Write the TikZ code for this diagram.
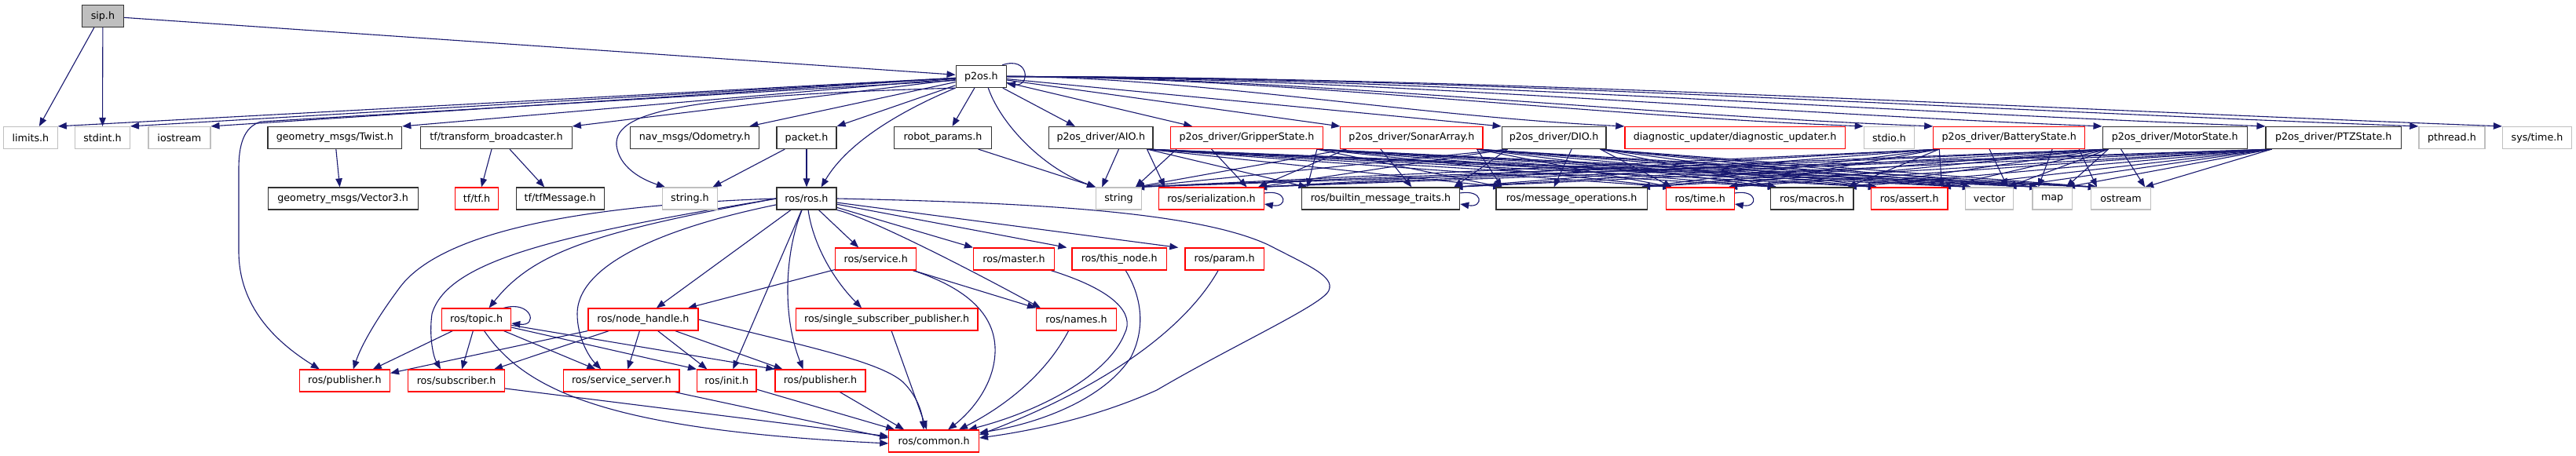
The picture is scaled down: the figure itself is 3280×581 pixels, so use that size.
\documentclass[tikz,border=0pt]{standalone}
\usepackage{fontspec}
\setmainfont{DejaVu Sans}
\usetikzlibrary{arrows.meta,calc}
\pgfdeclarelayer{bg}
\pgfsetlayers{bg,main}
\definecolor{edgec}{RGB}{25,25,112}
\definecolor{grayb}{RGB}{191,191,191}
\definecolor{redb}{RGB}{255,0,0}
\definecolor{blackb}{RGB}{50,50,50}
\tikzset{
 box/.style={draw=blackb, fill=white, line width=1.2pt, minimum height=28pt, inner sep=0pt, font=\fontsize{12.7}{15}\selectfont},
 ext/.style={box, draw=grayb},
 trunc/.style={box, draw=redb},
 root/.style={box, fill=grayb},
 dep/.style={draw=edgec, line width=1.1pt, -{Triangle[length=11pt,width=8.5pt]}},
}
\newcommand\E[2]{%
  \draw[dep] let \p1=(#1.south west), \p2=(#1.south east), \p3=(#2.north west), \p4=(#2.north east), \p5=(#1.center), \p6=(#2.center) in
  ({min(max(\x6,\x1+8pt),\x2-8pt)},\y1) -- ({min(max(\x5,\x3+8pt),\x4-8pt)},\y3);}
\newcommand\SL[1]{\draw[dep] ([yshift=7pt]#1.east) .. controls +(30,-5) and +(30,5) .. ([yshift=-7pt]#1.east);}
\begin{document}
\begin{tikzpicture}[x=1pt,y=-1pt]
\useasboundingbox (0,0) rectangle (3280,581);
% row 0
\node[root, minimum width=52.5pt] (sip) at (130.9,20.5) {sip.h};
% row 1
\node[box, minimum width=64.3pt] (p2os) at (1249.3,97.5) {p2os.h};
% row 2
\node[ext, minimum width=68.6pt] (limits) at (38.9,175.5) {limits.h};
\node[ext, minimum width=69.7pt] (stdint) at (130.5,175.5) {stdint.h};
\node[ext, minimum width=79pt] (iostream) at (228.4,175.5) {iostream};
\node[box, minimum width=170.7pt] (twist) at (426.4,175.5) {geometry\_msgs/Twist.h};
\node[box, minimum width=192.5pt] (tfb) at (632,175.5) {tf/transform\_broadcaster.h};
\node[box, minimum width=164.3pt] (odom) at (884.6,175.5) {nav\_msgs/Odometry.h};
\node[box, minimum width=76.1pt] (packet) at (1027,175.5) {packet.h};
\node[box, minimum width=124.7pt] (robotparams) at (1200.5,175.5) {robot\_params.h};
\node[box, minimum width=132.2pt] (aio) at (1401.8,175.5) {p2os\_driver/AIO.h};
\node[trunc, minimum width=193.6pt] (gripper) at (1587.5,175.5) {p2os\_driver/GripperState.h};
\node[trunc, minimum width=181.1pt] (sonar) at (1797.4,175.5) {p2os\_driver/SonarArray.h};
\node[box, minimum width=132.9pt] (dio) at (1978.6,175.5) {p2os\_driver/DIO.h};
\node[trunc, minimum width=280.4pt] (diag) at (2209.1,175.5) {diagnostic\_updater/diagnostic\_updater.h};
\node[ext, minimum width=64.3pt] (stdio) at (2405.4,175.5) {stdio.h};
\node[trunc, minimum width=192.8pt] (battery) at (2558.2,175.5) {p2os\_driver/BatteryState.h};
\node[box, minimum width=184.2pt] (motor) at (2769.2,175.5) {p2os\_driver/MotorState.h};
\node[box, minimum width=172.3pt] (ptz) at (2971.2,175.5) {p2os\_driver/PTZState.h};
\node[ext, minimum width=84pt] (pthread) at (3121.9,175.5) {pthread.h};
\node[ext, minimum width=88.1pt] (systime) at (3230.5,175.5) {sys/time.h};
% row 3
\node[box, minimum width=191pt] (vector3) at (436.6,253) {geometry\_msgs/Vector3.h};
\node[trunc, minimum width=55.3pt] (tftf) at (607,253) {tf/tf.h};
\node[box, minimum width=112.2pt] (tfmsg) at (713.2,253) {tf/tfMessage.h};
\node[ext, minimum width=69.6pt] (stringh) at (878.4,253) {string.h};
\node[box, minimum width=76.1pt] (rosros) at (1027,253) {ros/ros.h};
\node[ext, minimum width=57.5pt] (string) at (1424.5,253) {string};
\node[trunc, minimum width=133.6pt] (serial) at (1542.5,253) {ros/serialization.h};
\node[box, minimum width=201.5pt] (builtin) at (1757.9,253) {ros/builtin\_message\_traits.h};
\node[box, minimum width=192.1pt] (msgops) at (2001.1,253) {ros/message\_operations.h};
\node[trunc, minimum width=87.1pt] (time) at (2164.7,253) {ros/time.h};
\node[box, minimum width=105.4pt] (macros) at (2307.3,253) {ros/macros.h};
\node[trunc, minimum width=97.5pt] (assert) at (2431.3,253) {ros/assert.h};
\node[ext, minimum width=61.1pt] (vector) at (2533.1,253) {vector};
\node[ext, minimum width=50.3pt] (map) at (2613.1,253) {map};
\node[ext, minimum width=76pt] (ostream) at (2700.5,253) {ostream};
% row 4
\node[trunc, minimum width=103.2pt] (service) at (1115.2,330) {ros/service.h};
\node[trunc, minimum width=102.9pt] (master) at (1291,330) {ros/master.h};
\node[trunc, minimum width=120.4pt] (thisnode) at (1425.2,330) {ros/this\_node.h};
\node[trunc, minimum width=100.4pt] (param) at (1559.1,330) {ros/param.h};
% row 5
\node[trunc, minimum width=88.2pt] (topic) at (606.6,407) {ros/topic.h};
\node[trunc, minimum width=140pt] (nodehandle) at (818.9,407) {ros/node\_handle.h};
\node[trunc, minimum width=231.8pt] (single) at (1129.1,407) {ros/single\_subscriber\_publisher.h};
\node[trunc, minimum width=101.8pt] (names) at (1370.5,407) {ros/names.h};
% row 6
\node[trunc, minimum width=115.3pt] (pubL) at (438.8,485) {ros/publisher.h};
\node[trunc, minimum width=122.9pt] (subscriber) at (581.1,485) {ros/subscriber.h};
\node[trunc, minimum width=147.5pt] (srvserver) at (791.3,485) {ros/service\_server.h};
\node[trunc, minimum width=75.5pt] (init) at (925.3,485) {ros/init.h};
\node[trunc, minimum width=115pt] (pubR) at (1044.5,485) {ros/publisher.h};
% row 7
\node[trunc, minimum width=114.6pt] (common) at (1189.1,562) {ros/common.h};

\begin{pgfonlayer}{bg}
\fill[white] (0,0) rectangle (3280,581);
% sip.h
\draw[dep] ([xshift=-11pt]sip.south) -- ([xshift=11pt]limits.north);
\draw[dep] (sip) -- (stdint);
\draw[dep] (sip) -- (p2os);
% p2os.h
\draw[dep] ([xshift=-6pt]p2os.north east) .. controls +(35,-12) and +(30,4) .. ([yshift=-9pt]p2os.east);
\draw[dep] (p2os) -- (limits.north east);
\draw[dep] (p2os) -- (stdint.north east);
\draw[dep] (p2os) -- (iostream.north east);
\draw[dep] (p2os) -- (twist.north east);
\draw[dep] (p2os) -- (tfb.north east);
\draw[dep] (p2os) -- ([xshift=-13pt]odom.north east);
\draw[dep] (p2os) -- (packet.north east);
\draw[dep] (p2os) -- ([xshift=12pt]robotparams.north);
\draw[dep] (p2os) -- ([xshift=-33pt]aio.north);
\draw[dep] (p2os) -- ([xshift=28pt]gripper.north west);
\draw[dep] (p2os) -- (sonar.north west);
\draw[dep] (p2os) -- (dio.north west);
\draw[dep] (p2os) .. controls +(260,0) and +(-260,-12) .. (diag.north west);
\draw[dep] (p2os) .. controls +(360,0) and +(-360,-14) .. (stdio.north west);
\draw[dep] (p2os) .. controls +(390,0) and +(-390,-15) .. (battery.north west);
\draw[dep] (p2os) .. controls +(460,0) and +(-460,-18) .. (motor.north west);
\draw[dep] (p2os) .. controls +(530,0) and +(-530,-20) .. (ptz.north west);
\draw[dep] (p2os) .. controls +(600,0) and +(-600,-22) .. (pthread.north west);
\draw[dep] (p2os) .. controls +(630,0) and +(-630,-24) .. (systime.north west);
\draw[dep] (p2os.south west) .. controls (880,122) and (782,140) .. (785,185) .. controls (788,212) and (815,228) .. ([xshift=4pt]stringh.north west);
\draw[dep] ([xshift=9pt]p2os.south) .. controls (1275,160) and (1330,215) .. (string.north west);
\draw[dep] (p2os.south west) .. controls (1150,140) and (1080,180) .. ([xshift=-20pt]rosros.north east);
\draw[dep] ([yshift=-5pt]p2os.west) -- (332,155) .. controls (310,162) and (304,185) .. (304,215) -- (304,320) .. controls (304,390) and (350,435) .. ([xshift=-32pt]pubL.north);
% second level
\draw[dep] (packet) -- ([xshift=29pt]stringh.north);
\draw[dep] (packet) -- (rosros);
\draw[dep] (twist) -- ([xshift=-4pt]vector3.north);
\draw[dep] ([xshift=-6pt]tfb.south) -- ([xshift=6pt]tftf.north);
\draw[dep] ([xshift=17pt]tfb.south) -- ([xshift=-20pt]tfmsg.north);
\draw[dep] (robotparams) -- (string.north west);
% messages
\foreach \s in {aio,gripper,sonar,dio,battery,motor,ptz}{
  \foreach \t in {string,serial,builtin,msgops,time,macros,assert,vector,map,ostream}{
    \E{\s}{\t}
  }
}
\SL{serial}
\SL{builtin}
\SL{time}
% ros/ros.h
\draw[dep] (rosros.west) .. controls (720,262) and (560,300) .. (510,365) .. controls (480,405) and (460,440) .. ([xshift=11pt]pubL.north);
\draw[dep] (rosros.west) .. controls (720,298) and (570,330) .. (550,400) .. controls (546,430) and (552,455) .. ([xshift=-20pt]subscriber.north);
\draw[dep] (rosros.west) .. controls (760,295) and (680,320) .. ([xshift=16pt]topic.north);
\draw[dep] (rosros) .. controls (870,285) and (735,330) .. (735,400) .. controls (735,430) and (750,455) .. ([xshift=-26pt]srvserver.north);
\draw[dep] (rosros) -- ([xshift=17pt]nodehandle.north);
\draw[dep] (rosros) -- ([xshift=8pt]init.north);
\draw[dep] (rosros) .. controls (1000,320) and (995,400) .. ([xshift=-22pt]pubR.north);
\draw[dep] (rosros) .. controls (1035,310) and (1060,355) .. ([xshift=-32pt]single.north);
\draw[dep] (rosros) -- ([xshift=-22pt]service.north);
\draw[dep] (rosros) -- (master.north west);
\draw[dep] (rosros) -- ([xshift=-6pt]thisnode.north west);
\draw[dep] (rosros) -- ([xshift=-8pt]param.north west);
\draw[dep] (rosros.south east) .. controls (1100,275) and (1220,335) .. ([xshift=6pt]names.north west);
\draw[dep] (rosros.east) .. controls (1300,258) and (1520,268) .. (1615,312) .. controls (1665,338) and (1700,352) .. (1692,370) .. controls (1685,388) and (1570,440) .. (1473,497) .. controls (1400,530) and (1320,548) .. ([yshift=4pt]common.east);
% ros/topic.h
\draw[dep] ([xshift=-10pt]topic.north east) .. controls +(35,-10) and +(35,4) .. ([yshift=-5pt]topic.east);
\draw[dep] (topic) -- ([xshift=36pt]pubL.north);
\draw[dep] (topic) -- ([xshift=7pt]subscriber.north);
\draw[dep] (topic) -- ([xshift=-33pt]srvserver.north);
\draw[dep] (topic) -- (init.north west);
\draw[dep] (topic) -- (pubR.north west);
\draw[dep] ([xshift=10pt]topic.south) .. controls (670,500) and (780,548) .. ([yshift=-3pt]common.west);
% ros/node_handle.h
\draw[dep] (nodehandle.south west) -- ([yshift=-5pt]pubL.north east);
\draw[dep] (nodehandle) -- ([xshift=48pt]subscriber.north);
\draw[dep] (nodehandle) -- ([xshift=8pt]srvserver.north);
\draw[dep] (nodehandle) -- ([xshift=-25pt]init.north);
\draw[dep] (nodehandle) -- ([xshift=-48pt]pubR.north);
\draw[dep] (nodehandle.east) .. controls (1020,440) and (1120,460) .. (1150,487) .. controls (1168,505) and (1174,525) .. ([xshift=-13pt]common.north);
% ros/service.h
\draw[dep] (service) -- ([xshift=57pt]nodehandle.north);
\draw[dep] (service) -- (names.north west);
\draw[dep] ([xshift=-5pt]service.south east) .. controls (1255,375) and (1272,420) .. (1266,460) .. controls (1260,500) and (1230,530) .. ([xshift=18pt]common.north);
% others to ros/common.h
\draw[dep] ([xshift=-5pt]master.south east) .. controls (1420,370) and (1445,400) .. (1432,425) .. controls (1410,480) and (1320,525) .. ([xshift=-14pt]common.north east);
\draw[dep] ([xshift=8pt]thisnode.south) .. controls (1455,380) and (1458,420) .. (1440,455) .. controls (1405,510) and (1320,540) .. ([yshift=-4pt]common.north east);
\draw[dep] ([xshift=-8pt]param.south) .. controls (1520,400) and (1440,480) .. ([yshift=8pt]common.east);
\draw[dep] ([xshift=-10pt]names.south) .. controls (1330,480) and (1275,520) .. ([xshift=32pt]common.north);
\draw[dep] ([xshift=6pt]single.south) -- ([xshift=-9pt]common.north);
\draw[dep] ([yshift=-10pt]subscriber.east) -- ([yshift=6pt]common.west);
\draw[dep] (srvserver) -- ([yshift=4pt]common.west);
\draw[dep] (init) -- ([xshift=8pt]common.north west);
\draw[dep] (pubR) -- ([xshift=20pt]common.north west);
\end{pgfonlayer}
\end{tikzpicture}
\end{document}
